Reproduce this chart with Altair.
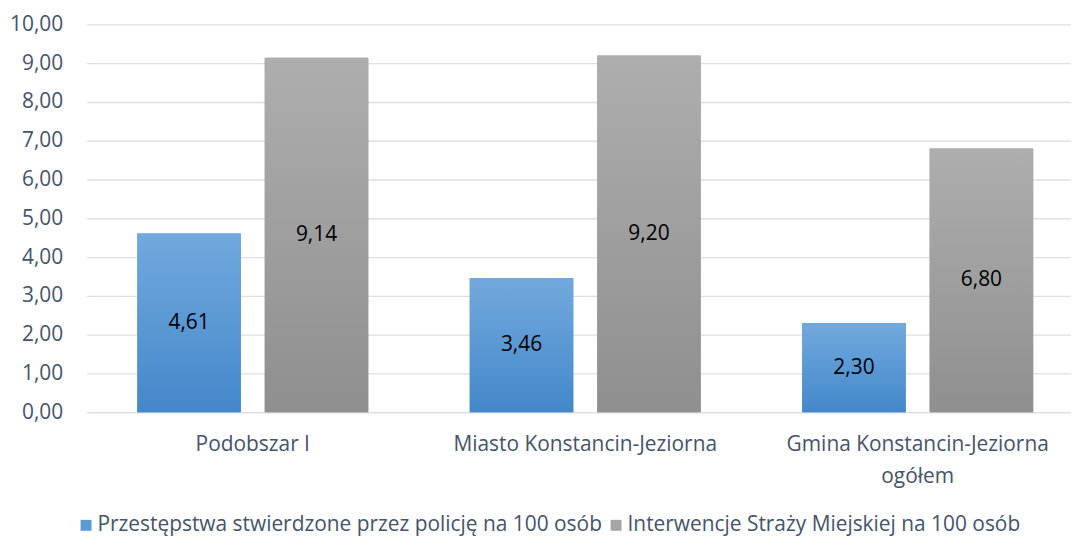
import altair as alt
import pandas as pd

categories = ["Podobszar I", "Miasto Konstancin-Jeziorna", "Gmina Konstancin-Jeziorna ogółem"]
series = ["Przestępstwa stwierdzone przez policję na 100 osób",
          "Interwencje Straży Miejskiej na 100 osób"]
police = [4.61, 3.46, 2.30]
guard = [9.14, 9.20, 6.80]
y_ticks = [0, 1, 2, 3, 4, 5, 6, 7, 8, 9, 10]

rows = []
for c, p, g in zip(categories, police, guard):
    rows.append({"cat": c, "series": series[0], "value": p})
    rows.append({"cat": c, "series": series[1], "value": g})
df = pd.DataFrame(rows)

FONT = "Open Sans"
TXT = "#44546A"
GRID = "#DCE0E5"
FS = 21

x_enc = alt.X(
    "cat:N", sort=categories,
    scale=alt.Scale(range=[0, 1003], paddingInner=0, paddingOuter=0),
    axis=alt.Axis(
        title=None, labelAngle=0, domain=False, ticks=False, grid=False,
        labelPadding=22, labelLimit=0, labelLineHeight=32,
        labelFont=FONT, labelFontSize=FS, labelColor=TXT,
        labelExpr="datum.value == 'Gmina Konstancin-Jeziorna ogółem' ? ['Gmina Konstancin-Jeziorna', 'ogółem'] : datum.label",
    ),
)
xoff_enc = alt.XOffset("series:N", sort=series,
                       scale=alt.Scale(paddingInner=0.1875, paddingOuter=0.398))
y_scale = alt.Scale(domain=[0, 10], nice=False)
y_axis = alt.Axis(
    title=None, values=y_ticks, domain=False, ticks=False, grid=True,
    gridColor=GRID, gridWidth=1.4, labelPadding=24,
    labelFont=FONT, labelFontSize=FS, labelColor=TXT,
    labelExpr="replace(format(datum.value, '.2f'), '.', ',')",
)
y_enc = alt.Y("value:Q", scale=y_scale, axis=y_axis)

base = alt.Chart(df)

legend_layer = base.mark_bar().encode(
    x=x_enc, xOffset=xoff_enc, y=y_enc,
    color=alt.Color(
        "series:N", sort=series,
        scale=alt.Scale(domain=series, range=["#5B9BD5", "#A5A5A5"]),
        legend=alt.Legend(
            title=None, orient="none", direction="horizontal",
            legendX=-11, legendY=493, symbolType="square", symbolSize=121,
            symbolStrokeWidth=0, labelFontSize=FS, labelFont=FONT,
            labelColor=TXT, columnPadding=3, labelOffset=1, padding=0,
            labelLimit=0,
        ),
    ),
)

blue_grad = alt.LinearGradient(
    gradient="linear", x1=0, x2=0, y1=0, y2=1,
    stops=[alt.GradientStop(color="#72A9DD", offset=0),
           alt.GradientStop(color="#4388CA", offset=1)],
)
gray_grad = alt.LinearGradient(
    gradient="linear", x1=0, x2=0, y1=0, y2=1,
    stops=[alt.GradientStop(color="#AEAEAE", offset=0),
           alt.GradientStop(color="#8F8F8F", offset=1)],
)

blue_layer = base.mark_bar(fill=blue_grad).encode(
    x=x_enc, xOffset=xoff_enc, y=y_enc
).transform_filter(alt.datum.series == series[0])
gray_layer = base.mark_bar(fill=gray_grad).encode(
    x=x_enc, xOffset=xoff_enc, y=y_enc
).transform_filter(alt.datum.series == series[1])

text_layer = base.transform_calculate(
    mid="datum.value / 2",
    lab="replace(format(datum.value, '.2f'), '.', ',')",
).mark_text(fontSize=FS, font=FONT, color="#000000", baseline="middle").encode(
    x=x_enc, xOffset=xoff_enc,
    y=alt.Y("mid:Q", scale=y_scale, axis=y_axis),
    text="lab:N",
)

chart = alt.layer(legend_layer, blue_layer, gray_layer, text_layer).properties(
    width=990, height=390,
    autosize=alt.AutoSizeParams(type="none"),
    padding={"left": 79, "top": 15, "right": 0, "bottom": 124},
    background="white",
).configure_view(stroke=None)

chart.save("out.html", embed_options={"renderer": "svg", "actions": False})
